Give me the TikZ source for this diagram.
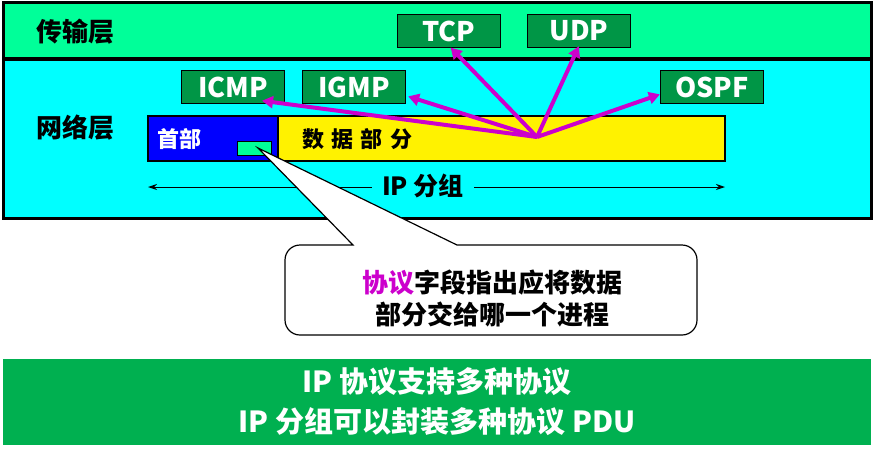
\documentclass[tikz,border=0pt]{standalone}
\usepackage{fontspec}
\setmainfont{Noto Sans CJK SC}
\usetikzlibrary{arrows.meta}
\definecolor{mint}{RGB}{0,255,153}
\definecolor{cyanbg}{RGB}{0,255,255}
\definecolor{boxgreen}{RGB}{0,150,70}
\definecolor{bandgreen}{RGB}{0,176,80}
\definecolor{mag}{RGB}{204,0,204}
\tikzset{
  protobox/.style={draw=black,line width=1pt,fill=boxgreen,text=white,font=\bfseries\fontsize{27}{29}\selectfont,minimum width=103pt,minimum height=33pt,inner sep=0pt},
  magarrow/.style={draw=mag,line width=4pt,-{Triangle[length=11pt,width=12pt]},shorten >=-2pt},
  layerlabel/.style={font=\bfseries\fontsize{26}{28}\selectfont,text=black},
  callout/.style={draw=black,line width=1.2pt,fill=white},
}
\begin{document}
\begin{tikzpicture}[x=1pt,y=-1pt]
\useasboundingbox (0,0) rectangle (874,456);
% layers
\draw[line width=3pt,fill=mint] (3,2) rectangle (871,58);
\draw[line width=3pt,fill=cyanbg] (3,59) rectangle (871,218);
\node[layerlabel] (trans) at (75,32) {传输层};
\node[layerlabel] (net) at (75,128) {网络层};
% packet
\node[draw=black,line width=1.5pt,fill=blue,minimum width=130pt,minimum height=45pt,inner sep=0pt,anchor=north west] (hdr) at (147,115) {};
\node[draw=black,line width=1.5pt,fill=yellow,minimum width=447pt,minimum height=45pt,inner sep=0pt,anchor=north west] (data) at (277,115) {};
\node[text=white,font=\bfseries\fontsize{22}{24}\selectfont] (hdrtxt) at (179,139) {首部};
\node[font=\bfseries\fontsize{22}{24}\selectfont] (datatxt) at (357,139) {数\,\,据\,\,部\,\,分};
\node[draw=black,line width=1pt,fill=mint,minimum width=34pt,minimum height=14pt,inner sep=0pt] (proto) at (254,148) {};
% proto boxes
\node[protobox] (tcp) at (449,31) {TCP};
\node[protobox] (udp) at (579,31) {UDP};
\node[protobox] (icmp) at (233,87) {ICMP};
\node[protobox] (igmp) at (354,87) {IGMP};
\node[protobox] (ospf) at (712,87) {OSPF};
\coordinate (src) at (537,137);
\draw[magarrow] (src) -- (264,101);
\draw[magarrow] (src) -- (410,97);
\draw[magarrow] (src) -- (452,49);
\draw[magarrow] (src) -- (578,48);
\draw[magarrow] (src) -- (658,95);
% IP packet arrow
\coordinate (ipl) at (148,187);
\coordinate (ipr) at (725,187);
\draw[line width=1pt,{Stealth[length=9pt,width=6pt]}-{Stealth[length=9pt,width=6pt]}] (ipl) -- (ipr);
\node[fill=cyanbg,inner xsep=10pt,inner ysep=1pt,font=\bfseries\fontsize{25}{27}\selectfont] (iplabel) at (423,186) {IP 分组};
% callout
\draw[callout] (258,148) -- (457,245) {[rounded corners=15pt] -- (697,245) -- (697,335) -- (285,335) -- (285,245)} -- (353,245) -- cycle;
\node[font=\bfseries\fontsize{26}{32}\selectfont,align=center] (note) at (492,298) {\textcolor{mag}{协议}字段指出应将数据\\部分交给哪一个进程};
% bottom band
\node[fill=bandgreen,minimum width=868pt,minimum height=86pt,inner sep=0pt,anchor=north west] (band) at (3,359) {};
\node[text=white,font=\bfseries\fontsize{29}{40}\selectfont,align=center] (bandtxt) at (437,402) {IP 协议支持多种协议\\IP 分组可以封装多种协议 PDU};
\end{tikzpicture}
\end{document}
